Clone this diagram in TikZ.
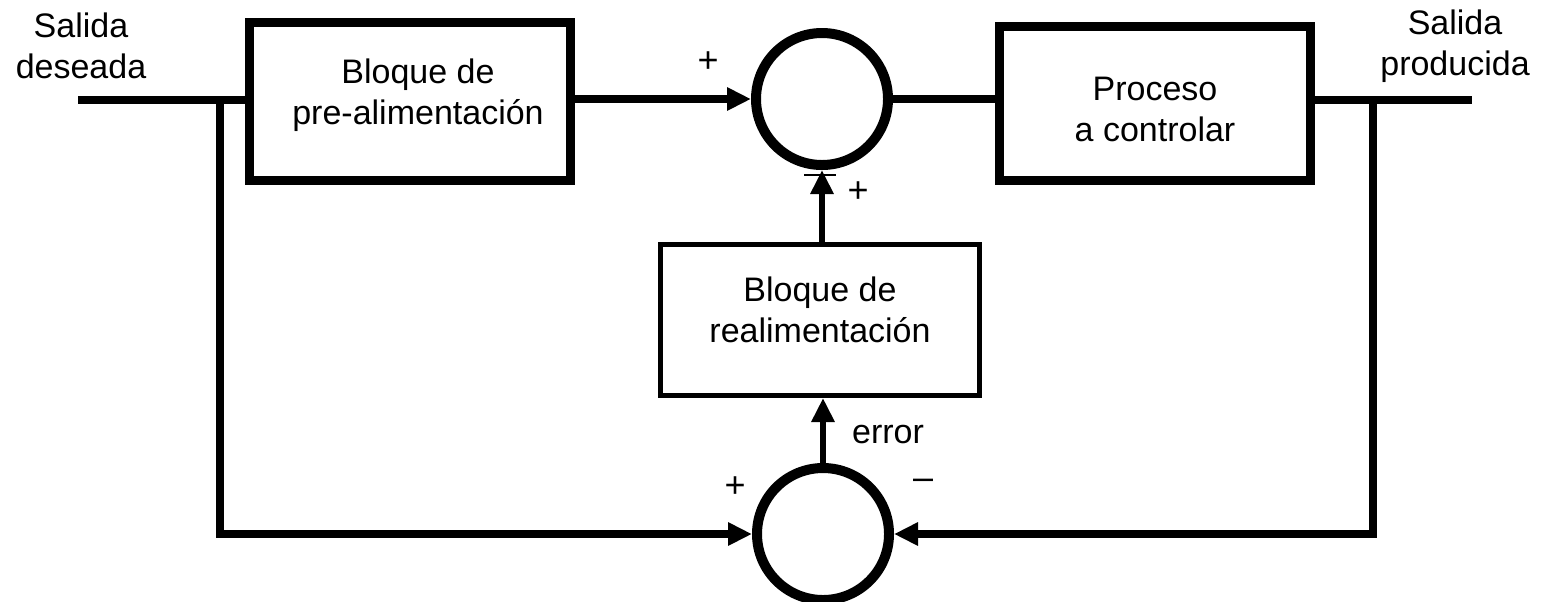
\documentclass[tikz,border=0pt]{standalone}
\usepackage{fontspec}
\setmainfont{Liberation Sans}
\usetikzlibrary{arrows.meta}
\begin{document}
\begin{tikzpicture}[x=0.5pt,y=-0.5pt,
  every node/.style={font=\fontsize{17}{20.5}\selectfont, align=center},
  block/.style={draw, line width=4.5pt, inner sep=0pt},
  fbblock/.style={draw, line width=2.5pt, inner sep=0pt},
  summer/.style={draw, circle, line width=5pt, minimum size=66pt, inner sep=0pt},
  wire/.style={line width=3.8pt},
  vwire/.style={line width=3.2pt},
  tip/.style={-{Triangle[length=12pt,width=11pt]}},
  sign/.style={inner sep=0pt, font=\fontsize{18}{20}\selectfont}
]
\useasboundingbox (0,0) rectangle (1545,601);

% blocks and summing junctions (block texts set as centred labels)
\node[block, minimum width=160.5pt, minimum height=79pt,
      label={[name=fftext, yshift=3pt, xshift=4pt]center:{Bloque de\\pre-alimentación}}]
  (ff) at (410,101) {};
\node[summer] (s1) at (822,99) {};
\node[block, minimum width=155.5pt, minimum height=77pt,
      label={[name=proctext, yshift=-3pt]center:{Proceso\\a controlar}}]
  (proc) at (1155,103) {};
\node[fbblock, minimum width=159.5pt, minimum height=75.5pt,
      label={[name=fbtext, yshift=5pt]center:{Bloque de\\realimentación}}]
  (fb) at (820,320) {};
\node[summer] (s2) at (823,534) {};

% free ends and branch points
\coordinate (in) at (78,100);
\coordinate (out) at (1472,100);
\coordinate (bl) at (220,100);
\coordinate (br) at (1373,100);

% forward path
\draw[wire] (in) -- (in -| ff.west);
\draw[wire, tip] (ff.east |- s1.west) -- (s1.west);
\draw[wire] (s1.east) -- (s1.east -| proc.west);
\draw[wire] (proc.east |- out) -- (out);

% feedback paths
\draw[wire, tip] (bl) |- (s2.west);
\draw[wire, tip] (br) |- (s2.east);
\draw[vwire, tip] (s2.north) -- (s2.north |- fb.south);
\draw[vwire, tip] (s1.south |- fb.north) -- (s1.south);
\draw[line width=0.8pt] ([xshift=-9pt,yshift=-2.5pt]s1.south) -- ++(32,0);

% labels
\node (lin) at (81,46) {Salida\\deseada};
\node (lout) at (1455,46) {Salida\\producida};
\node[sign] (p1) at (708,62) {+};
\node[sign] (p2) at (858,192) {+};
\node[sign] (p3) at (735,487) {+};
\node[sign] (m1) at (923,484) {–};
\node (err) at (888,435) {error};
\end{tikzpicture}
\end{document}
